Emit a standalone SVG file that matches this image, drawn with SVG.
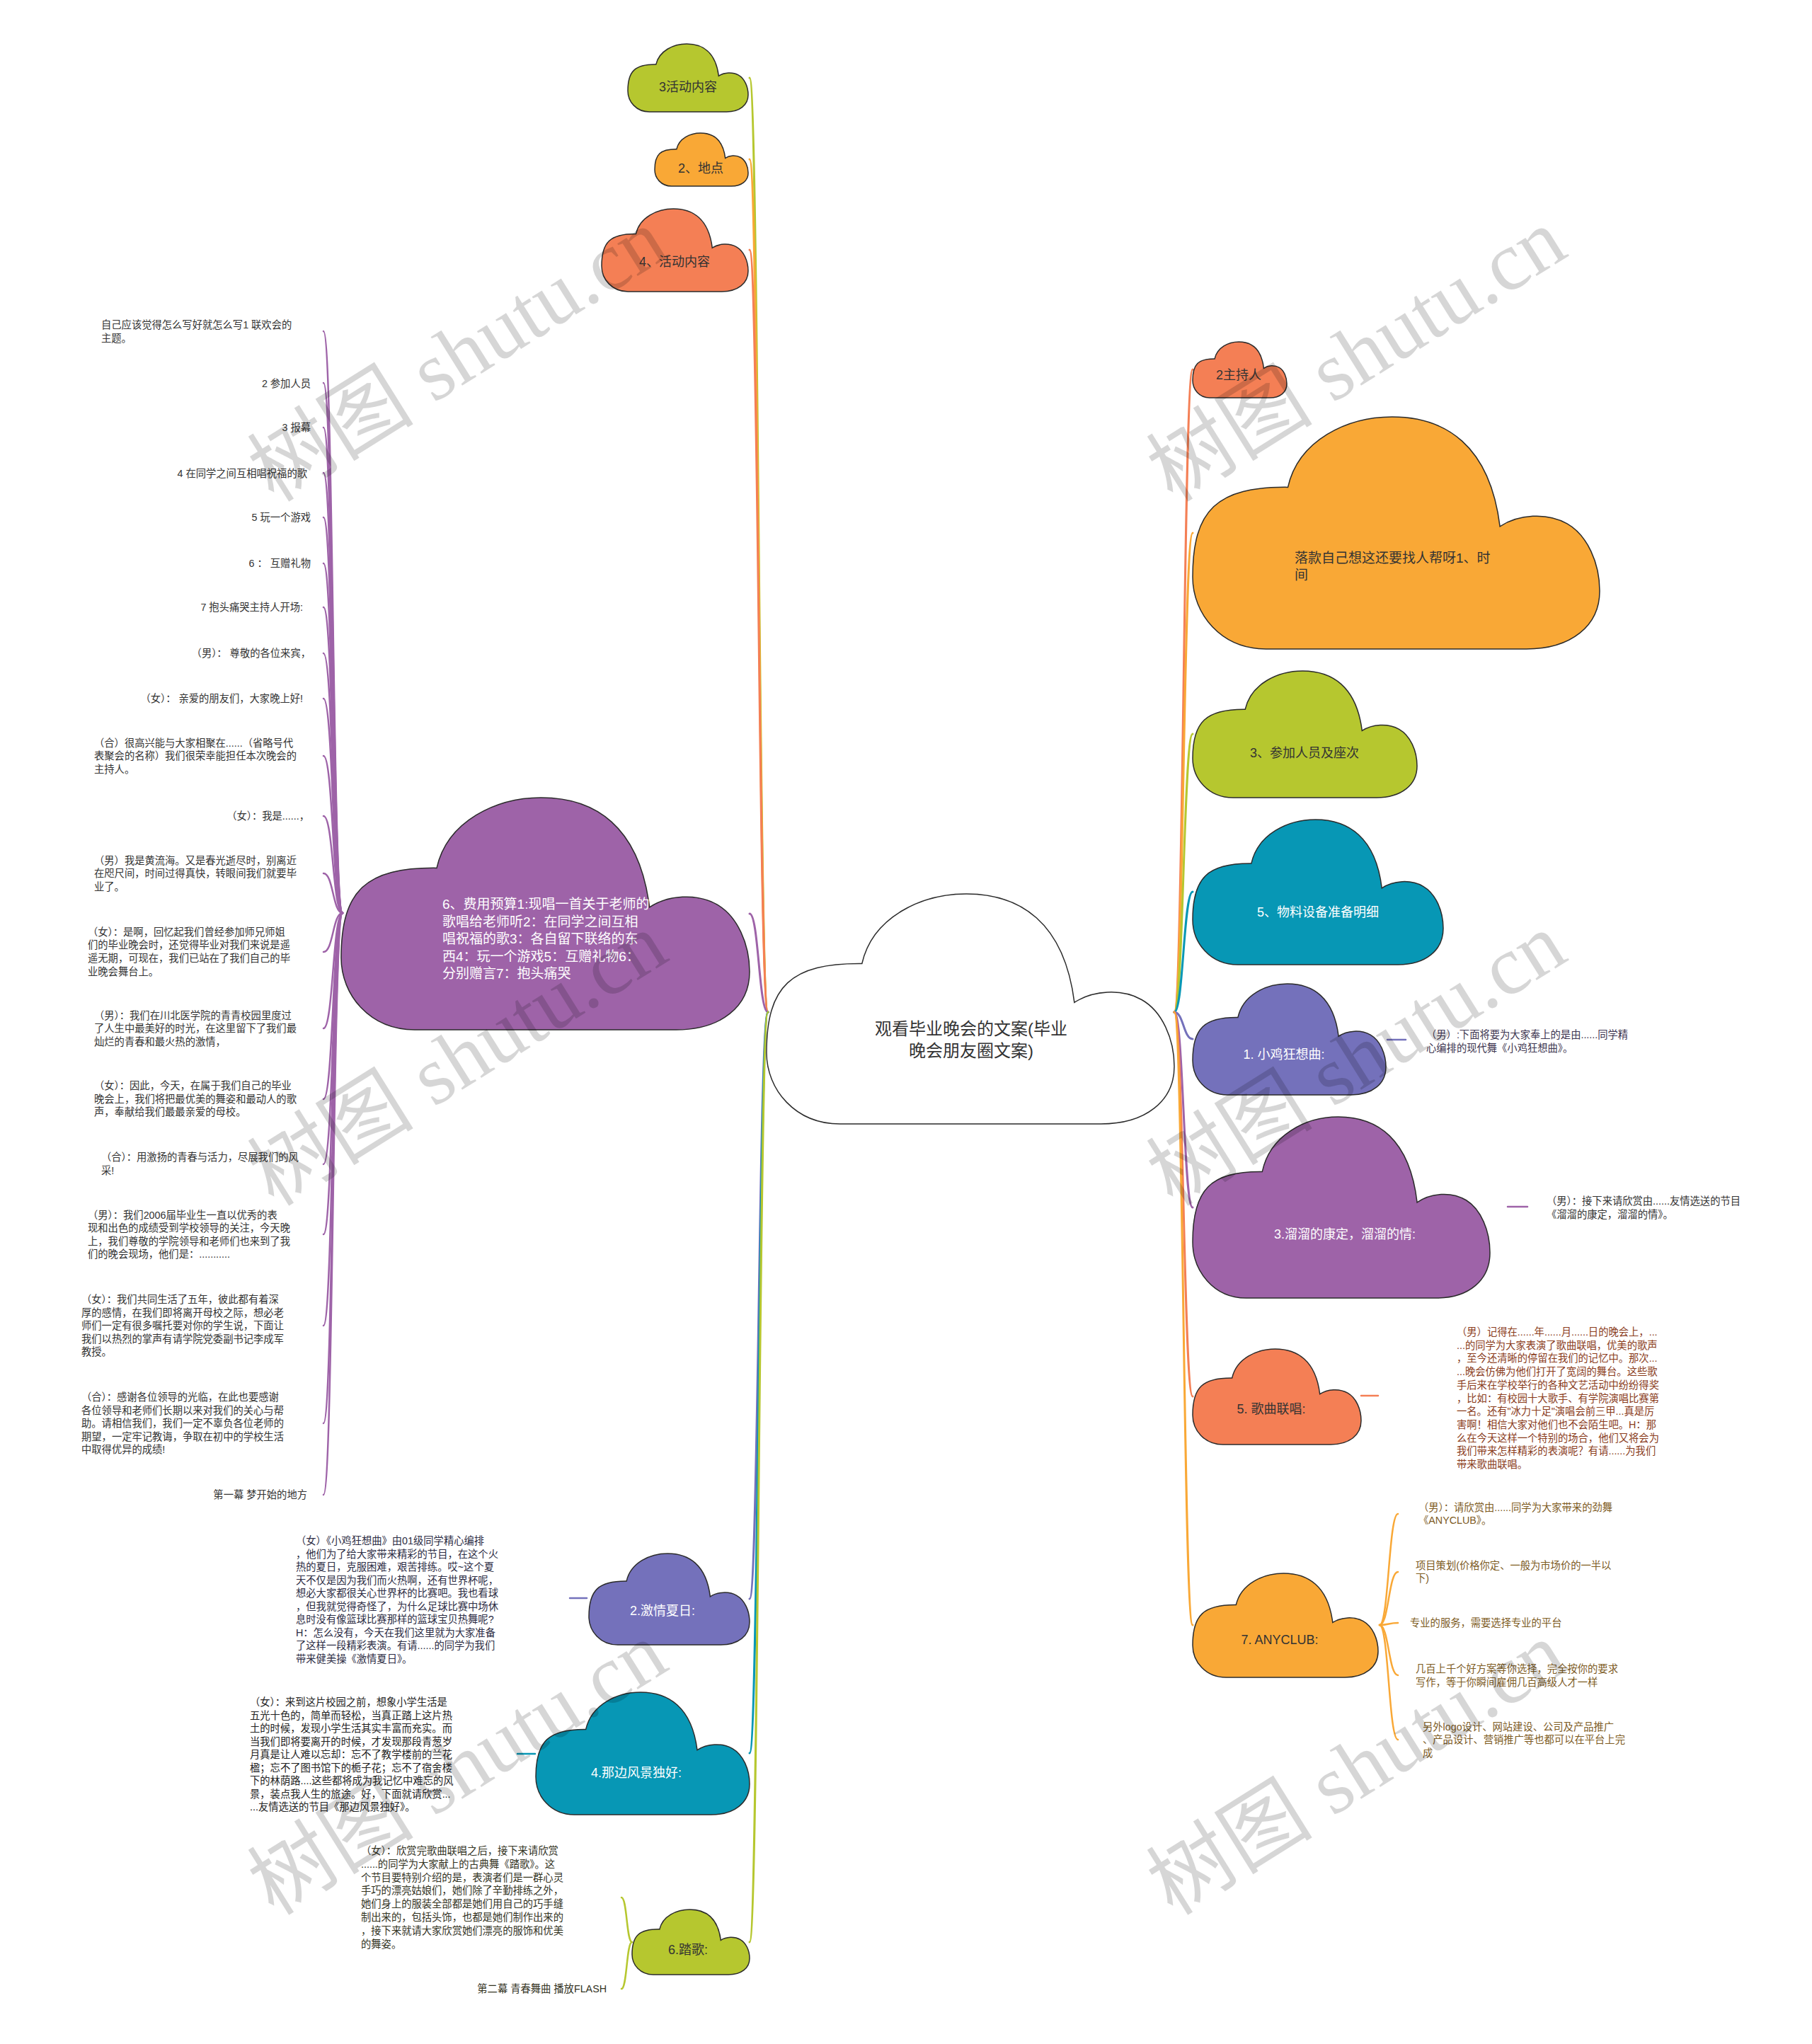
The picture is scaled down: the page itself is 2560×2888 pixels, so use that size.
<svg xmlns="http://www.w3.org/2000/svg" width="2560" height="2888" viewBox="0 0 2560 2888">
<style>
.bg{fill:#ffffff}
.cl{stroke:#2b2b2b;stroke-width:1.5}
.g{fill:#b6c72f}.o{fill:#f9a836}.c{fill:#f47f55}.p{fill:#9e63a8}.v{fill:#7471bb}.t{fill:#0797b5}.w{fill:#ffffff}
.nl{font-family:"Liberation Sans","Noto Sans CJK SC",sans-serif;font-size:18px;text-anchor:middle;dominant-baseline:central}
.dk{fill:#333333}.wt{fill:#ffffff}
.lf{font-family:"Liberation Sans","Noto Sans CJK SC",sans-serif;font-size:14.3px;dominant-baseline:central}
.ln{fill:none;stroke-width:3;stroke-linecap:round}
.lk{fill:none;stroke-width:2.5;stroke-linecap:round}
.sg{stroke:#b6c72f}.so{stroke:#f9a836}.sc{stroke:#f47f55}.sp{stroke:#9e63a8}.sv{stroke:#7471bb}.st{stroke:#0797b5}
.wm{font-family:"Liberation Serif","Noto Sans CJK SC",serif;font-size:118px;fill:#000;fill-opacity:0.16}
</style>
<defs>
<path id="cloud" vector-effect="non-scaling-stroke" d="M0.234 0.303C0.26 0.10 0.38 0 0.49 0C0.62 0 0.73 0.12 0.755 0.472C0.80 0.42 0.87 0.41 0.92 0.46C0.97 0.51 1 0.63 1 0.75C1 0.90 0.93 1 0.82 1L0.18 1C0.07 1 0 0.85 0 0.69C0 0.40 0.06 0.30 0.234 0.303Z"/>
</defs>
<rect class="bg" x="0" y="0" width="2560" height="2888"/>

<g id="connectors">
<path class="ln sg" d="M1085 1430C1072 1430 1072 110 1059 110"/>
<path class="ln so" d="M1085 1430C1072 1430 1072 225 1059 225"/>
<path class="ln sc" d="M1085 1430C1072 1430 1072 353 1059 353"/>
<path class="ln sp" d="M1085 1430C1072 1430 1072 1291 1059 1291"/>
<path class="ln sv" d="M1085 1430C1072 1430 1072 2259 1059 2259"/>
<path class="ln st" d="M1085 1430C1072 1430 1072 2477 1059 2477"/>
<path class="ln sg" d="M1085 1430C1072 1430 1072 2744 1059 2744"/>
<path class="ln sc" d="M1659 1430C1672 1430 1672 522 1685 522"/>
<path class="ln so" d="M1659 1430C1672 1430 1672 753 1685 753"/>
<path class="ln sg" d="M1659 1430C1672 1430 1672 1037 1685 1037"/>
<path class="ln st" d="M1659 1430C1672 1430 1672 1260 1685 1260"/>
<path class="ln sv" d="M1659 1430C1672 1430 1672 1468 1685 1468"/>
<path class="ln sp" d="M1659 1430C1672 1430 1672 1706 1685 1706"/>
<path class="ln sc" d="M1659 1430C1672 1430 1672 1973 1685 1973"/>
<path class="ln so" d="M1659 1430C1672 1430 1672 2296 1685 2296"/>
<g class="lk sp">
<path d="M484 1290C470 1290 471 468 457 468"/>
<path d="M484 1290C470 1290 471 541 457 541"/>
<path d="M484 1290C470 1290 471 604 457 604"/>
<path d="M484 1290C470 1290 471 668 457 668"/>
<path d="M484 1290C470 1290 471 731 457 731"/>
<path d="M484 1290C470 1290 471 796 457 796"/>
<path d="M484 1290C470 1290 471 858 457 858"/>
<path d="M484 1290C470 1290 471 923 457 923"/>
<path d="M484 1290C470 1290 471 987 457 987"/>
<path d="M484 1290C470 1290 471 1068 457 1068"/>
<path d="M484 1290C470 1290 471 1153 457 1153"/>
<path d="M484 1290C470 1290 471 1234 457 1234"/>
<path d="M484 1290C470 1290 471 1345 457 1345"/>
<path d="M484 1290C470 1290 471 1453 457 1453"/>
<path d="M484 1290C470 1290 471 1553 457 1553"/>
<path d="M484 1290C470 1290 471 1645 457 1645"/>
<path d="M484 1290C470 1290 471 1744 457 1744"/>
<path d="M484 1290C470 1290 471 1873 457 1873"/>
<path d="M484 1290C470 1290 471 2011 457 2011"/>
<path d="M484 1290C470 1290 471 2112 457 2112"/>
</g>
<path class="lk sv" d="M1960 1469L1986 1469"/>
<path class="lk sp" d="M2130 1705L2158 1705"/>
<path class="lk sc" d="M1923 1972L1947 1972"/>
<path class="lk sv" d="M805 2258L829 2258"/>
<path class="lk st" d="M731 2478L756 2478"/>
<g class="lk so">
<path d="M1949 2296C1962 2296 1962 2139 1975 2139"/>
<path d="M1949 2296C1962 2296 1962 2221 1975 2221"/>
<path d="M1949 2296C1962 2296 1962 2293 1975 2293"/>
<path d="M1949 2296C1962 2296 1962 2367 1975 2367"/>
<path d="M1949 2296C1962 2296 1962 2458 1975 2458"/>
</g>
<g class="lk sg">
<path d="M893 2744C885 2744 886 2681 878 2681"/>
<path d="M893 2744C885 2744 886 2810 878 2810"/>
</g>
</g>

<g id="center">
<use href="#cloud" class="cl w" transform="translate(1083 1263) scale(576 325)"/>
<text class="nl dk" style="font-size:24px"><tspan x="1372" y="1453">观看毕业晚会的文案(毕业</tspan><tspan x="1372" y="1484">晚会朋友圈文案)</tspan></text>
</g>

<g id="n-huodong3">
<use href="#cloud" class="cl g" transform="translate(887 62) scale(170 96)"/>
<text class="nl dk" x="972" y="123">3活动内容</text>
</g>
<g id="n-didian">
<use href="#cloud" class="cl o" transform="translate(925 188) scale(132 75)"/>
<text class="nl dk" x="990" y="238">2、地点</text>
</g>
<g id="n-huodong4">
<use href="#cloud" class="cl c" transform="translate(850 295) scale(207 117)"/>
<text class="nl dk" x="953" y="370">4、活动内容</text>
</g>
<g id="n-yusuan">
<use href="#cloud" class="cl p" transform="translate(482 1127) scale(577 328)"/>
<text class="nl wt" style="text-anchor:start;font-size:19px"><tspan x="625" y="1277">6、费用预算1:现唱一首关于老师的</tspan><tspan x="625" y="1301.5">歌唱给老师听2：在同学之间互相</tspan><tspan x="625" y="1326">唱祝福的歌3：各自留下联络的东</tspan><tspan x="625" y="1350.5">西4：玩一个游戏5：互赠礼物6：</tspan><tspan x="625" y="1375">分别赠言7：抱头痛哭</tspan></text>
</g>
<g id="n-jiqing">
<use href="#cloud" class="cl v" transform="translate(832 2195) scale(227 129)"/>
<text class="nl wt" x="936" y="2276">2.激情夏日:</text>
</g>
<g id="n-fengjing">
<use href="#cloud" class="cl t" transform="translate(757 2391) scale(302 173)"/>
<text class="nl wt" x="899" y="2505">4.那边风景独好:</text>
</g>
<g id="n-tage">
<use href="#cloud" class="cl g" transform="translate(893 2698) scale(166 92)"/>
<text class="nl dk" x="972" y="2755">6.踏歌:</text>
</g>

<g id="n-zhuchi">
<use href="#cloud" class="cl c" transform="translate(1685 483) scale(133 79)"/>
<text class="nl dk" x="1750" y="530">2主持人</text>
</g>
<g id="n-luokuan">
<use href="#cloud" class="cl o" transform="translate(1685 589) scale(575 328)"/>
<text class="nl dk" style="text-anchor:start;font-size:19px"><tspan x="1829" y="788">落款自己想这还要找人帮呀1、时</tspan><tspan x="1829" y="812">间</tspan></text>
</g>
<g id="n-canjia">
<use href="#cloud" class="cl g" transform="translate(1685 948) scale(317 179)"/>
<text class="nl dk" x="1843" y="1064">3、参加人员及座次</text>
</g>
<g id="n-wuliao">
<use href="#cloud" class="cl t" transform="translate(1685 1158) scale(354 205)"/>
<text class="nl wt" x="1862" y="1289">5、物料设备准备明细</text>
</g>
<g id="n-xiaoji">
<use href="#cloud" class="cl v" transform="translate(1685 1390) scale(273 157)"/>
<text class="nl wt" x="1814" y="1490">1. 小鸡狂想曲:</text>
</g>
<g id="n-liuliu">
<use href="#cloud" class="cl p" transform="translate(1685 1578) scale(420 256)"/>
<text class="nl wt" x="1900" y="1744">3.溜溜的康定，溜溜的情:</text>
</g>
<g id="n-gequ">
<use href="#cloud" class="cl c" transform="translate(1685 1906) scale(238 135)"/>
<text class="nl dk" x="1796" y="1991">5. 歌曲联唱:</text>
</g>
<g id="n-anyclub">
<use href="#cloud" class="cl o" transform="translate(1685 2223) scale(262 147)"/>
<text class="nl dk" x="1808" y="2317">7. ANYCLUB:</text>
</g>

<g id="leaves-left" class="lf" fill="#333333">
<text><tspan x="143" y="459">自己应该觉得怎么写好就怎么写1  联欢会的</tspan><tspan x="143" y="477.6">主题。</tspan></text>
<text x="439" y="541.5" text-anchor="end">2  参加人员</text>
<text x="439" y="604" text-anchor="end">3  报幕</text>
<text x="434" y="668.5" text-anchor="end">4  在同学之间互相唱祝福的歌</text>
<text x="439" y="731" text-anchor="end">5  玩一个游戏</text>
<text x="439" y="795.6" text-anchor="end">6  ：  互赠礼物</text>
<text x="428" y="858" text-anchor="end">7  抱头痛哭主持人开场:</text>
<text x="439" y="922.7" text-anchor="end">（男）：  尊敬的各位来宾，</text>
<text x="428" y="987" text-anchor="end">（女）：  亲爱的朋友们，大家晚上好!</text>
<text><tspan x="133" y="1049.8">（合）很高兴能与大家相聚在......（省略号代</tspan><tspan x="133" y="1068.4">表聚会的名称）我们很荣幸能担任本次晚会的</tspan><tspan x="133" y="1087">主持人。</tspan></text>
<text x="437" y="1153" text-anchor="end">（女）：我是......，</text>
<text><tspan x="133" y="1215.5">（男）我是黄流海。又是春光逝尽时，别离近</tspan><tspan x="133" y="1234.1">在咫尺间，时间过得真快，转眼间我们就要毕</tspan><tspan x="133" y="1252.7">业了。</tspan></text>
<text><tspan x="124" y="1316.8">（女）：是啊，回忆起我们曾经参加师兄师姐</tspan><tspan x="124" y="1335.4">们的毕业晚会时，还觉得毕业对我们来说是遥</tspan><tspan x="124" y="1354">遥无期，可现在，我们已站在了我们自己的毕</tspan><tspan x="124" y="1372.6">业晚会舞台上。</tspan></text>
<text><tspan x="133" y="1434.7">（男）：我们在川北医学院的青青校园里度过</tspan><tspan x="133" y="1453.3">了人生中最美好的时光，在这里留下了我们最</tspan><tspan x="133" y="1471.9">灿烂的青春和最火热的激情，</tspan></text>
<text><tspan x="133" y="1534">（女）：因此，今天，在属于我们自己的毕业</tspan><tspan x="133" y="1552.6">晚会上，我们将把最优美的舞姿和最动人的歌</tspan><tspan x="133" y="1571.2">声，奉献给我们最最亲爱的母校。</tspan></text>
<text><tspan x="143" y="1635.4">（合）：用激扬的青春与活力，尽展我们的风</tspan><tspan x="143" y="1654">采!</tspan></text>
<text><tspan x="124" y="1716.5">（男）：我们2006届毕业生一直以优秀的表</tspan><tspan x="124" y="1735.1">现和出色的成绩受到学校领导的关注，今天晚</tspan><tspan x="124" y="1753.7">上，我们尊敬的学院领导和老师们也来到了我</tspan><tspan x="124" y="1772.3">们的晚会现场，他们是：...........</tspan></text>
<text><tspan x="115" y="1836">（女）：我们共同生活了五年，彼此都有着深</tspan><tspan x="115" y="1854.6">厚的感情，在我们即将离开母校之际，想必老</tspan><tspan x="115" y="1873.2">师们一定有很多嘱托要对你的学生说，下面让</tspan><tspan x="115" y="1891.8">我们以热烈的掌声有请学院党委副书记李成军</tspan><tspan x="115" y="1910.4">教授。</tspan></text>
<text><tspan x="115" y="1974">（合）：感谢各位领导的光临，在此也要感谢</tspan><tspan x="115" y="1992.6">各位领导和老师们长期以来对我们的关心与帮</tspan><tspan x="115" y="2011.2">助。请相信我们，我们一定不辜负各位老师的</tspan><tspan x="115" y="2029.8">期望，一定牢记教诲，争取在初中的学校生活</tspan><tspan x="115" y="2048.4">中取得优异的成绩!</tspan></text>
<text x="434" y="2112" text-anchor="end">第一幕 梦开始的地方</text>
</g>

<g id="leaf-jiqing" class="lf" fill="#2d2d45">
<text><tspan x="418" y="2177">（女）《小鸡狂想曲》由01级同学精心编排</tspan><tspan x="418" y="2195.5">，他们为了给大家带来精彩的节目，在这个火</tspan><tspan x="418" y="2214">热的夏日，克服困难，艰苦排练。哎~这个夏</tspan><tspan x="418" y="2232.5">天不仅是因为我们而火热啊，还有世界杯呢，</tspan><tspan x="418" y="2251">想必大家都很关心世界杯的比赛吧。我也看球</tspan><tspan x="418" y="2269.5">，但我就觉得奇怪了，为什么足球比赛中场休</tspan><tspan x="418" y="2288">息时没有像篮球比赛那样的篮球宝贝热舞呢?</tspan><tspan x="418" y="2306.5">H：怎么没有，今天在我们这里就为大家准备</tspan><tspan x="418" y="2325">了这样一段精彩表演。有请......的同学为我们</tspan><tspan x="418" y="2343.5">带来健美操《激情夏日》。</tspan></text>
</g>
<g id="leaf-fengjing" class="lf" fill="#222222">
<text><tspan x="353" y="2405">（女）：来到这片校园之前，想象小学生活是</tspan><tspan x="353" y="2423.5">五光十色的，简单而轻松，当真正踏上这片热</tspan><tspan x="353" y="2442">土的时候，发现小学生活其实丰富而充实。而</tspan><tspan x="353" y="2460.5">当我们即将要离开的时候，才发现那段青葱岁</tspan><tspan x="353" y="2479">月真是让人难以忘却：忘不了教学楼前的兰花</tspan><tspan x="353" y="2497.5">楹；忘不了图书馆下的栀子花；忘不了宿舍楼</tspan><tspan x="353" y="2516">下的林荫路....这些都将成为我记忆中难忘的风</tspan><tspan x="353" y="2534.5">景，装点我人生的旅途。好，下面就请欣赏...</tspan><tspan x="353" y="2553">...友情选送的节目《那边风景独好》。</tspan></text>
</g>
<g id="leaf-tage" class="lf" fill="#33331f">
<text><tspan x="510" y="2615">（女）：欣赏完歌曲联唱之后，接下来请欣赏</tspan><tspan x="510" y="2633.8">......的同学为大家献上的古典舞《踏歌》。这</tspan><tspan x="510" y="2652.6">个节目要特别介绍的是，表演者们是一群心灵</tspan><tspan x="510" y="2671.4">手巧的漂亮姑娘们，她们除了辛勤排练之外，</tspan><tspan x="510" y="2690.2">她们身上的服装全部都是她们用自己的巧手缝</tspan><tspan x="510" y="2709">制出来的，包括头饰，也都是她们制作出来的</tspan><tspan x="510" y="2727.8">，接下来就请大家欣赏她们漂亮的服饰和优美</tspan><tspan x="510" y="2746.6">的舞姿。</tspan></text>
<text x="857" y="2810" text-anchor="end">第二幕 青春舞曲 播放FLASH</text>
</g>

<g id="leaf-xiaoji" class="lf" fill="#3d3550">
<text><tspan x="2015" y="1462">（男）:下面将要为大家奉上的是由......同学精</tspan><tspan x="2015" y="1480.5">心编排的现代舞《小鸡狂想曲》。</tspan></text>
</g>
<g id="leaf-liuliu" class="lf" fill="#333333">
<text><tspan x="2185" y="1697">（男）：接下来请欣赏由......友情选送的节目</tspan><tspan x="2185" y="1716">《溜溜的康定，溜溜的情》。</tspan></text>
</g>
<g id="leaf-gequ" class="lf" fill="#8a3c1c">
<text><tspan x="2058" y="1882">（男）记得在......年......月......日的晚会上，...</tspan><tspan x="2058" y="1900.7">...的同学为大家表演了歌曲联唱，优美的歌声</tspan><tspan x="2058" y="1919.4">，至今还清晰的停留在我们的记忆中。那次...</tspan><tspan x="2058" y="1938.1">...晚会仿佛为他们打开了宽阔的舞台。这些歌</tspan><tspan x="2058" y="1956.8">手后来在学校举行的各种文艺活动中纷纷得奖</tspan><tspan x="2058" y="1975.5">，比如：有校园十大歌手、有学院演唱比赛第</tspan><tspan x="2058" y="1994.2">一名。还有"冰力十足"演唱会前三甲...真是厉</tspan><tspan x="2058" y="2012.9">害啊！相信大家对他们也不会陌生吧。H：那</tspan><tspan x="2058" y="2031.6">么在今天这样一个特别的场合，他们又将会为</tspan><tspan x="2058" y="2050.3">我们带来怎样精彩的表演呢？有请......为我们</tspan><tspan x="2058" y="2069">带来歌曲联唱。</tspan></text>
</g>
<g id="leaf-anyclub" class="lf" fill="#7d5b1f">
<text><tspan x="2004" y="2130">（男）：请欣赏由......同学为大家带来的劲舞</tspan><tspan x="2004" y="2148">《ANYCLUB》。</tspan></text>
<text><tspan x="2000" y="2212">项目策划(价格你定、一般为市场价的一半以</tspan><tspan x="2000" y="2230">下)</tspan></text>
<text x="1992" y="2293">专业的服务，需要选择专业的平台</text>
<text><tspan x="2000" y="2358">几百上千个好方案等你选择，完全按你的要求</tspan><tspan x="2000" y="2377">写作，等于你瞬间雇佣几百高级人才一样</tspan></text>
<text><tspan x="2010" y="2440">另外logo设计、网站建设、公司及产品推广</tspan><tspan x="2010" y="2458">、产品设计、营销推广等也都可以在平台上完</tspan><tspan x="2010" y="2477">成</tspan></text>
</g>

<g id="watermark" class="wm">
<text transform="translate(387 711) rotate(-32)">树图 shutu.cn</text>
<text transform="translate(1657 711) rotate(-32)">树图 shutu.cn</text>
<text transform="translate(387 1706) rotate(-32)">树图 shutu.cn</text>
<text transform="translate(1657 1706) rotate(-32)">树图 shutu.cn</text>
<text transform="translate(387 2708) rotate(-32)">树图 shutu.cn</text>
<text transform="translate(1657 2708) rotate(-32)">树图 shutu.cn</text>
</g>
</svg>
